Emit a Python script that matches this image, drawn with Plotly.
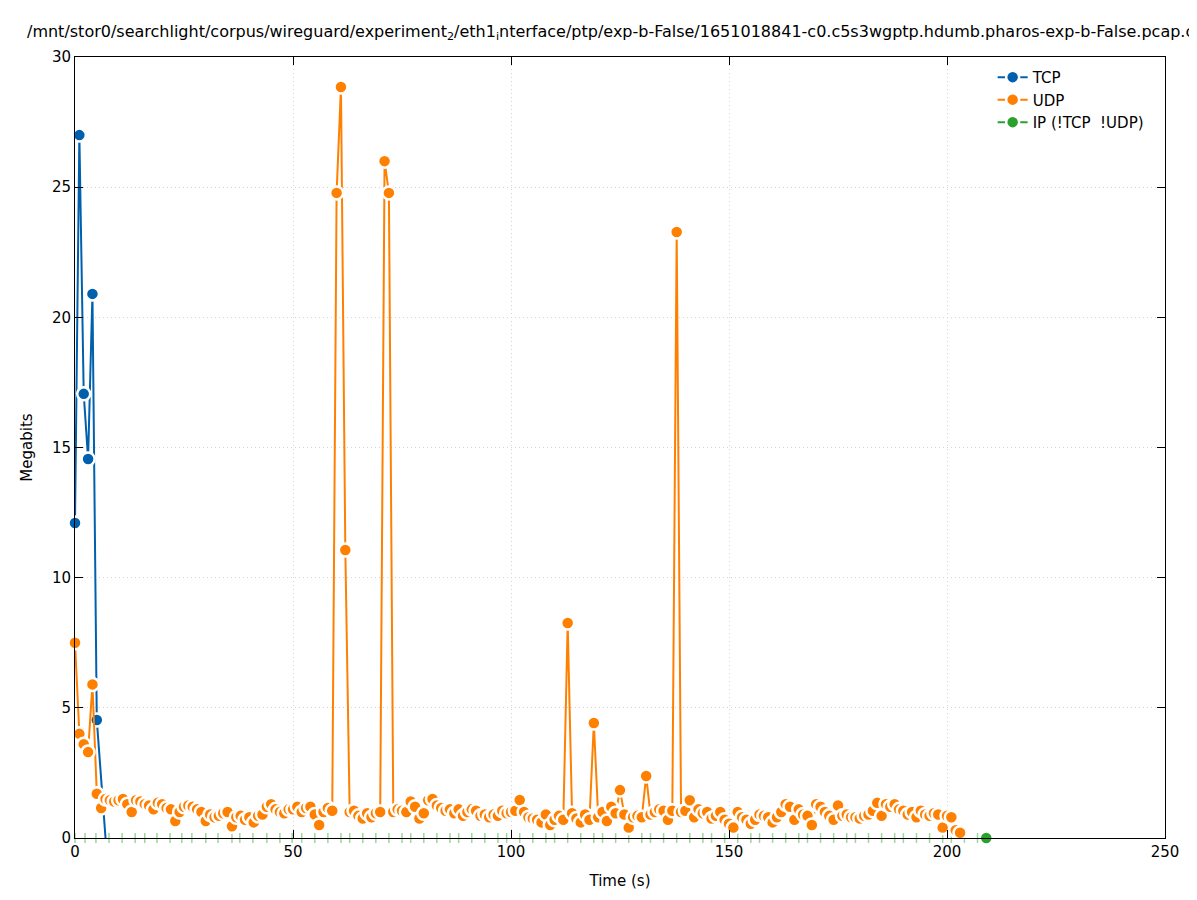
import plotly.graph_objects as go

title_text = ("/mnt/stor0/searchlight/corpus/wireguard/experiment<sub>2</sub>/eth1<sub>i</sub>nterface"
              "/ptp/exp-b-False/1651018841-c0.c5s3wgptp.hdumb.pharos-exp-b-False.pcap.c")

tcp_t = [0, 1, 2, 3, 4, 5, 7]
tcp_mb = [12.1, 27.0, 17.06, 14.56, 20.9, 4.53, 0.0]

udp_t = list(range(204))
udp_mb = [
    7.5, 4.0, 3.6, 3.3, 5.9, 1.7, 1.15, 1.5, 1.45, 1.4,
    1.45, 1.5, 1.3, 1.0, 1.45, 1.4, 1.3, 1.25, 1.1, 1.35,
    1.3, 1.15, 1.1, 0.65, 1.0, 1.2, 1.25, 1.2, 1.1, 1.0,
    0.65, 0.9, 0.8, 0.85, 0.95, 1.0, 0.45, 0.8, 0.85, 0.7,
    0.8, 0.6, 0.85, 0.9, 1.2, 1.3, 1.1, 1.0, 0.95, 1.1,
    1.1, 1.2, 1.0, 1.15, 1.2, 0.9, 0.5, 1.0, 1.15, 1.05,
    24.78, 28.85, 11.06, 1.0, 1.05, 0.85, 0.75, 0.95, 0.8, 0.95,
    1.0, 26.0, 24.78, 1.0, 1.1, 1.05, 1.0, 1.4, 1.2, 0.75,
    0.95, 1.45, 1.5, 1.25, 1.15, 1.05, 1.1, 0.95, 1.1, 0.85,
    1.0, 1.1, 1.05, 0.85, 0.9, 0.8, 0.9, 0.85, 1.05, 0.95,
    1.0, 1.05, 1.46, 1.0, 0.8, 0.75, 0.7, 0.6, 0.9, 0.5,
    0.7, 0.85, 0.7, 8.26, 0.95, 0.75, 0.6, 0.9, 0.7, 4.42,
    0.8, 1.0, 0.65, 1.2, 0.95, 1.84, 0.9, 0.4, 0.8, 0.85,
    0.8, 2.38, 0.9, 1.0, 1.1, 1.05, 0.7, 1.05, 23.28, 1.0,
    1.05, 1.45, 0.8, 1.1, 0.95, 1.0, 0.75, 0.85, 1.0, 0.7,
    0.55, 0.4, 1.0, 0.8, 0.7, 0.55, 0.7, 0.9, 0.85, 0.8,
    0.6, 0.8, 1.0, 1.3, 1.2, 0.7, 1.1, 0.9, 0.85, 0.5,
    1.3, 1.2, 1.0, 0.85, 0.7, 1.25, 0.85, 0.9, 0.8, 0.8,
    0.75, 0.85, 0.9, 1.05, 1.35, 0.85, 1.3, 1.2, 1.3, 1.1,
    1.05, 0.9, 1.0, 0.8, 1.05, 0.9, 0.85, 0.95, 0.9, 0.4,
    0.85, 0.8, 0.3, 0.2,
]

# IP (!TCP !UDP): only the last sample shows as a full point, the rest sit on the axis
ip_t = [209]
ip_mb = [0]
ip_small_t = [0, 2.3, 4.8, 7.8, 10.8, 13.8, 16, 18.8, 21.8, 24.5, 26.8, 30, 32.8, 36, 37.8,
              40.8, 44, 47, 49.8, 52, 55, 58, 61, 63, 66, 69, 72, 75, 77, 80, 83, 86, 88,
              91, 94, 97, 99, 102, 105, 108, 110, 113, 116, 119, 121, 124, 127, 130, 132,
              135, 138, 141, 144, 146, 149, 152, 155, 157, 160, 163, 166, 168, 171, 174,
              177, 179, 182, 185, 188, 190, 193, 196, 199, 201, 204, 207]
ip_small_mb = [0] * len(ip_small_t)

blue = "#0060ad"
orange = "#ff8000"
green = "#2ca02c"

fig = go.Figure()

fig.add_trace(go.Scatter(
    x=ip_small_t, y=ip_small_mb, mode="markers", showlegend=False, hoverinfo="skip",
    marker=dict(symbol="line-ns", size=7, line=dict(color="#9fd49f", width=1.5)),
    cliponaxis=False,
))

# last TCP sample lies on the x axis: only its line segment shows
fig.add_trace(go.Scatter(
    x=tcp_t[-2:], y=tcp_mb[-2:], mode="lines", showlegend=False, hoverinfo="skip",
    line=dict(color=blue, width=2), cliponaxis=True,
))

for name, xs, ys, col in [("TCP", tcp_t[:-1], tcp_mb[:-1], blue),
                          ("UDP", udp_t, udp_mb, orange),
                          ("IP (!TCP  !UDP)", ip_t, ip_mb, green)]:
    fig.add_trace(go.Scatter(
        x=xs, y=ys, name=name, mode="lines+markers",
        line=dict(color=col, width=2),
        marker=dict(color=col, size=13, line=dict(color="white", width=2.5)),
        cliponaxis=False,
    ))

axis_common = dict(
    showline=True, linecolor="black", linewidth=1, mirror="allticks",
    ticks="inside", ticklen=8, tickcolor="black", automargin=False,
    showgrid=True, gridcolor="#d4d4d4", griddash="1px,3px", gridwidth=1,
    zeroline=False, tickfont=dict(size=15, color="black"),
)

fig.update_xaxes(range=[0, 250], dtick=50, title=dict(text="Time (s)", font=dict(size=15)),
                 **axis_common)
fig.update_yaxes(range=[0, 30], dtick=5, title=dict(text="Megabits", font=dict(size=15)),
                 **axis_common)

# the page puts the figure 8px in from the top-left corner
fig.update_layout(
    width=1189, height=892,
    margin=dict(l=67, r=32, t=49, b=62, autoexpand=False),
    plot_bgcolor="white", paper_bgcolor="white",
    font=dict(family="DejaVu Sans", color="black", size=15),
    title=dict(text=title_text, x=19 / 1189, xanchor="left", xref="container",
               y=1 - 23 / 892, yanchor="middle", yref="container",
               font=dict(size=16)),
    legend=dict(x=0.985, xanchor="right", y=0.995, yanchor="top",
                bgcolor="rgba(255,255,255,0)", font=dict(size=15),
                tracegroupgap=0),
)

fig.write_html("out.html")
